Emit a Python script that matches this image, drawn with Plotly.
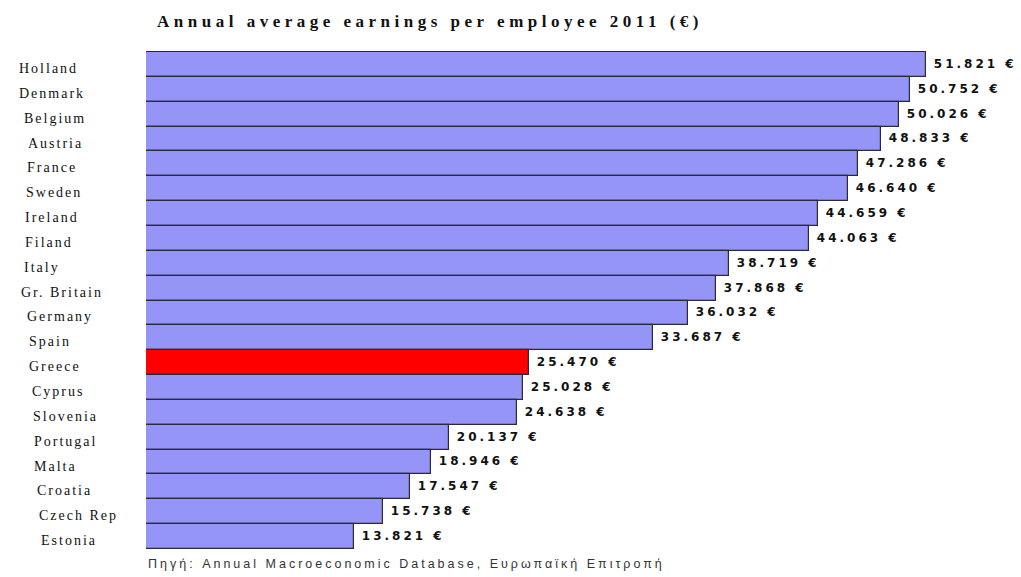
import plotly.graph_objects as go

countries = ["Holland", "Denmark", "Belgium", "Austria", "France", "Sweden",
             "Ireland", "Filand", "Italy", "Gr. Britain", "Germany", "Spain",
             "Greece", "Cyprus", "Slovenia", "Portugal", "Malta", "Croatia",
             "Czech Rep", "Estonia"]
earnings = [51821, 50752, 50026, 48833, 47286, 46640, 44659, 44063, 38719,
            37868, 36032, 33687, 25470, 25028, 24638, 20137, 18946, 17547,
            15738, 13821]

highlight = "Greece"
bar_colors = ["#ff0000" if c == highlight else "#9595f7" for c in countries]

# left indent of each category name, in pixels from the page edge
label_indent = [17, 17, 22, 26, 25, 24, 23, 23, 22, 19, 25, 27, 27, 30, 31,
                32, 32, 35, 37, 39]

MARGIN_L, MARGIN_R = 146, 11
PLOT_W = 1021 - MARGIN_L - MARGIN_R


def spaced(text, px):
    """Wrap text in a span with extra letter spacing."""
    return f'<span style="letter-spacing:{px}px">{text}</span>'


fig = go.Figure(go.Bar(
    x=earnings,
    y=countries,
    orientation="h",
    marker=dict(color=bar_colors, line=dict(color="#2a2a3a", width=1.2)),
    texttemplate=spaced("\u2009%{x:,} €", 3),
    textposition="outside",
    cliponaxis=False,
    textfont=dict(family="DejaVu Sans, Verdana, sans-serif", size=12,
                  color="#111111", weight="bold"),
    hoverinfo="skip",
))

# category names on the left, drawn as serif annotations
for c, px in zip(countries, label_indent):
    fig.add_annotation(
        x=(px - MARGIN_L) / PLOT_W, xref="paper", xanchor="left",
        y=c, yref="y", yshift=-4,
        text=spaced(c, 2), showarrow=False,
        font=dict(family="Liberation Serif, Times New Roman, serif",
                  size=14, color="#111111"),
    )

fig.add_annotation(
    x=0.0, xref="paper", xanchor="left",
    y=-0.012, yref="paper", yanchor="top",
    text=spaced("Πηγή: Annual Macroeconomic Database, Ευρωπαϊκή Επιτροπή", 3),
    showarrow=False,
    font=dict(family="Liberation Sans, Arial, sans-serif", size=12.5,
              color="#333333"),
)

fig.update_layout(
    width=1021, height=577,
    margin=dict(l=MARGIN_L, r=MARGIN_R, t=51, b=28),
    paper_bgcolor="white", plot_bgcolor="white",
    separators=",.",
    bargap=0,
    showlegend=False,
    title=dict(
        text="<b>" + spaced("Annual average earnings per employee 2011 (€)", 4.5) + "</b>",
        x=430 / 1021, xanchor="center", y=1 - 21 / 577, yanchor="middle",
        font=dict(family="Liberation Serif, Times New Roman, serif",
                  size=17, color="#111111"),
    ),
    xaxis=dict(range=[0, 57400], visible=False, fixedrange=True),
    yaxis=dict(autorange="reversed", showticklabels=False, showgrid=False,
               zeroline=False, showline=False, ticks=""),
)

fig.write_html("out.html")
